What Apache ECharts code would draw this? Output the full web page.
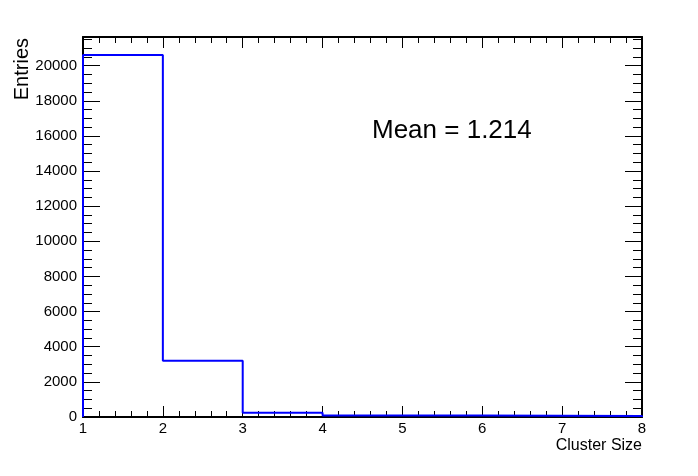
<!DOCTYPE html>
<html><head><meta charset="utf-8">
<script src="https://cdn.jsdelivr.net/npm/echarts@6/dist/echarts.min.js"></script>
<style>html,body{margin:0;padding:0;background:#fff}#c{width:698px;height:476px}</style>
</head><body><div id="c"></div>
<script>
// ---- data ----
const binEdges = [1, 2, 3, 4, 5, 6, 7, 8];
const binCounts = [20600, 3200, 240, 90, 80, 70, 60];
const xTickLabels = ['1', '2', '3', '4', '5', '6', '7', '8'];
const yTickLabels = ['0', '2000', '4000', '6000', '8000', '10000', '12000', '14000', '16000', '18000', '20000'];
const yMax = 21630;
const xTitle = 'Cluster Size';
const yTitle = 'Entries';
const meanLabel = 'Mean = 1.214';

// histogram outline built from bins
const pts = [[binEdges[0], 0]];
for (let i = 0; i < binCounts.length; i++) {
  pts.push([binEdges[i], binCounts[i]]);
  pts.push([binEdges[i + 1], binCounts[i]]);
}
pts.push([binEdges[binEdges.length - 1], 0]);

const FONT = '"Liberation Sans", Arial, Helvetica, sans-serif';
const BLACK = '#000';
const line2 = { show: true, onZero: false, lineStyle: { color: BLACK, width: 2 } };
const noSplit = { show: false };

const xMin = binEdges[0], xMax = binEdges[binEdges.length - 1];
function xAx(pos, labels) {
  return {
    type: 'value', position: pos, min: xMin, max: xMax, interval: 1,
    axisLine: line2,
    axisTick: { show: true, inside: true, length: 11, lineStyle: { color: BLACK, width: 1 } },
    minorTick: { show: true, splitNumber: 5, length: 6, lineStyle: { color: BLACK, width: 1 } },
    splitLine: noSplit, minorSplitLine: noSplit,
    axisLabel: labels ? {
      show: true, color: BLACK, fontSize: 15, fontFamily: FONT, margin: 4,
      formatter: v => xTickLabels[Math.round(v - xMin)] ?? ''
    } : { show: false },
    name: labels ? xTitle : '',
    nameLocation: 'end', nameGap: 0,
    nameTextStyle: { color: BLACK, fontSize: 16, fontFamily: FONT, align: 'right', verticalAlign: 'top', padding: [21, 0, 0, 0] }
  };
}
function yAxMajor(pos, labels) {
  return {
    type: 'value', position: pos, min: 0, max: yMax, interval: 2000,
    axisLine: line2,
    axisTick: { show: true, inside: true, length: 17, lineStyle: { color: BLACK, width: 1 } },
    minorTick: { show: false },
    splitLine: noSplit, minorSplitLine: noSplit,
    axisLabel: labels ? {
      show: true, color: BLACK, fontSize: 15, fontFamily: FONT, margin: 6,
      showMaxLabel: false, padding: [5, 0, 0, 0],
      formatter: v => { const i = Math.round(v / 2000); return (Math.abs(v - i * 2000) < 1e-6 && yTickLabels[i]) ? yTickLabels[i] : ''; }
    } : { show: false }
  };
}
function yAxMinor(pos) {
  return {
    type: 'value', position: pos, min: 0, max: yMax, interval: 500,
    axisLine: { show: false },
    axisTick: { show: true, inside: true, length: 9, lineStyle: { color: BLACK, width: 1 } },
    splitLine: noSplit, axisLabel: { show: false }
  };
}

const chart = echarts.init(document.getElementById('c'), null, { renderer: 'canvas' });
chart.setOption({
  animation: false,
  backgroundColor: '#fff',
  grid: { left: 83, top: 37, width: 559, height: 380, containLabel: false },
  xAxis: [xAx('bottom', true), xAx('top', false)],
  yAxis: [yAxMajor('left', true), yAxMinor('left'), yAxMajor('right', false), yAxMinor('right')],
  series: [{
    type: 'line', xAxisIndex: 0, yAxisIndex: 0,
    data: pts, showSymbol: false, symbol: 'none', clip: false,
    lineStyle: { color: '#0000ff', width: 2 }, z: 5
  }],
  graphic: [
    { type: 'text', x: 22, y: 38, rotation: Math.PI / 2,
      style: { text: yTitle, font: '20px ' + FONT, fill: BLACK, align: 'right', verticalAlign: 'middle' } },
    { type: 'text', x: 372, y: 130.5,
      style: { text: meanLabel, font: '26px ' + FONT, fill: BLACK, align: 'left', verticalAlign: 'middle' } }
  ]
});
</script></body></html>
